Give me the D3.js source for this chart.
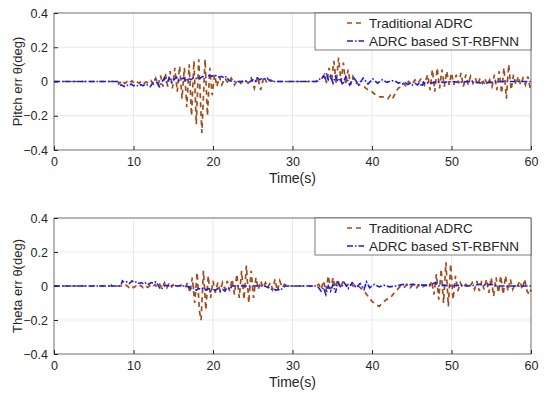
<!DOCTYPE html>
<html>
<head>
<meta charset="utf-8">
<script src="https://cdn.jsdelivr.net/npm/d3@7"></script>
<style>
  body { margin: 0; background: #fff; }
  svg { display: block; font-family: "Liberation Sans", Arial, sans-serif; }
</style>
</head>
<body>
<div id="chart"></div>
<script>
// axis settings
const xTicks = [0, 10, 20, 30, 40, 50, 60];
const yTicks = [-0.4, -0.2, 0, 0.2, 0.4];
const seriesNames = ["Traditional ADRC", "ADRC based ST-RBFNN"];
const panelLabels = ["Pitch err \u03b8(deg)", "Theta err \u03b8(deg)"];

// pitch error, traditional ADRC  [time, value]
const pitchTrad = [[0,0],[8,0],[8.3,-0.01],[8.6,0.005],[8.9,-0.012],[9.2,0],[9.5,-0.01],[9.8,0.004],[10.1,-0.012],[10.4,-0.002],[10.7,-0.01],[11,0.002],[11.3,-0.012],[11.6,-0.003],[11.9,-0.01],[12.2,0.005],[12.5,-0.015],[12.8,0.02],[13.1,-0.02],[13.4,0.035],[13.7,-0.03],[14,0.05],[14.3,-0.03],[14.6,0.06],[14.9,-0.04],[15.2,0.08],[15.5,-0.06],[15.8,0.09],[16.1,-0.1],[16.4,0.08],[16.7,-0.15],[17,0.1],[17.3,-0.2],[17.6,0.12],[17.9,-0.25],[18.2,0.13],[18.6,-0.3],[19,0.13],[19.3,-0.2],[19.6,0.08],[19.9,-0.08],[20.2,0.04],[20.5,-0.03],[20.8,0.03],[21.1,-0.02],[21.5,0.02],[21.9,-0.01],[22.3,0.02],[22.7,-0.02],[23.1,0.01],[23.5,-0.01],[24,0.01],[24.4,-0.01],[24.8,0.02],[25.2,-0.04],[25.6,0.03],[26,-0.05],[26.4,0.03],[26.8,-0.01],[27.2,0.01],[27.6,0],[33,0],[33.6,0.01],[34,0.04],[34.3,-0.01],[34.6,0.08],[34.9,0],[35.2,0.12],[35.5,-0.01],[35.8,0.14],[36.1,0],[36.4,0.11],[36.7,-0.02],[37,0.07],[37.3,-0.02],[37.6,0.03],[38,-0.01],[38.5,-0.02],[39,-0.03],[39.5,-0.05],[40,-0.06],[40.5,-0.08],[41,-0.09],[41.5,-0.09],[42,-0.1],[42.3,-0.08],[42.6,-0.1],[43,-0.06],[43.3,-0.04],[43.6,-0.03],[44,-0.01],[44.3,-0.03],[44.6,0],[45,-0.02],[45.4,0.01],[45.8,-0.01],[46.2,0.02],[46.6,-0.02],[47,0.04],[47.3,-0.05],[47.6,0.07],[47.9,-0.06],[48.2,0.08],[48.5,-0.04],[48.8,0.07],[49.1,-0.03],[49.4,0.06],[49.7,-0.02],[50,0.05],[50.3,-0.02],[50.6,0.04],[50.9,-0.01],[51.2,0.05],[51.5,-0.03],[51.8,0.04],[52.1,-0.02],[52.4,0.03],[52.7,-0.01],[53,0.02],[53.3,-0.02],[53.6,0.02],[53.9,-0.01],[54.2,0.02],[54.5,-0.02],[54.8,0.01],[55.1,-0.03],[55.4,0.04],[55.7,-0.05],[56,0.06],[56.3,-0.07],[56.6,0.08],[56.9,-0.1],[57.2,0.1],[57.5,-0.05],[57.8,0.04],[58.1,-0.02],[58.4,0.03],[58.7,-0.02],[59,0.02],[59.3,-0.02],[59.6,0.03],[59.9,-0.04],[60,-0.02]];

// pitch error, ADRC based ST-RBFNN
const pitchNN = [[0,0],[8,0],[8.2,-0.025],[8.5,-0.02],[8.8,-0.03],[9.1,-0.02],[9.4,-0.025],[9.7,-0.015],[10,-0.025],[10.3,-0.02],[10.6,-0.028],[10.9,-0.018],[11.2,-0.025],[11.5,-0.015],[11.8,-0.022],[12.1,-0.03],[12.4,-0.01],[12.7,0.01],[13,-0.01],[13.3,-0.03],[13.6,0],[13.9,0.02],[14.2,-0.01],[14.5,0.02],[14.8,-0.005],[15.1,0.01],[15.4,0.025],[15.7,0.005],[16,0.015],[16.3,0.02],[16.6,0],[16.9,0.02],[17.2,0.01],[17.5,0.02],[17.8,0.015],[18.1,0.025],[18.4,0.02],[18.7,0.03],[19,0.02],[19.3,0.03],[19.6,0.035],[19.9,0.03],[20.2,0.04],[20.5,0.03],[20.8,0.025],[21.1,0.03],[21.4,0.02],[21.7,0.03],[22,0.005],[22.5,0],[23.5,0],[24,0.005],[24.5,-0.005],[25,0.01],[25.3,0],[25.6,0.02],[25.9,0.01],[26.2,0.02],[26.5,0.015],[26.8,0.02],[27.1,0.005],[27.5,0],[33,0],[33.3,0.01],[33.6,0.02],[33.9,0.03],[34.1,0.02],[34.3,0.05],[34.5,0.01],[34.8,0.03],[35.1,-0.01],[35.4,0.03],[35.7,0],[36,0.02],[36.3,-0.02],[36.7,0.03],[37.2,-0.02],[37.7,0.025],[38.3,-0.02],[38.9,0.02],[39.5,-0.015],[40.1,0.015],[40.7,-0.01],[41.3,0.01],[41.9,-0.005],[42.5,0.005],[43,0],[43.3,-0.01],[43.6,-0.005],[43.9,-0.015],[44.2,-0.008],[44.5,-0.018],[44.8,-0.01],[45.1,-0.02],[45.4,-0.01],[45.7,-0.02],[46,-0.008],[46.3,-0.03],[46.5,-0.005],[46.8,-0.015],[47.1,-0.005],[47.5,-0.01],[48,0],[49,-0.005],[50,0],[51,-0.005],[52,0],[53,-0.005],[54,-0.01],[55,-0.005],[56,0],[60,0]];

// theta error, traditional ADRC
const thetaTrad = [[0,0],[8.5,0],[8.8,-0.005],[9.1,0.005],[9.4,-0.008],[9.7,0.003],[10,-0.01],[10.3,0],[10.6,-0.008],[10.9,0.004],[11.2,-0.01],[11.5,0.002],[11.8,-0.008],[12.1,0.004],[12.4,-0.006],[12.7,0.008],[13,-0.01],[13.3,0.01],[13.6,-0.015],[13.9,0.02],[14.2,-0.01],[14.5,0.02],[14.8,-0.005],[15.1,0.01],[15.5,0],[16,0.005],[16.5,-0.01],[16.8,0.02],[17.1,-0.04],[17.4,0.05],[17.7,-0.1],[18,0.08],[18.3,-0.15],[18.5,-0.2],[18.8,0.09],[19.1,-0.14],[19.4,0.06],[19.7,-0.07],[20,0.03],[20.3,-0.04],[20.6,0.02],[20.9,-0.03],[21.2,0.02],[21.5,-0.02],[21.8,0.03],[22.1,-0.03],[22.4,0.04],[22.7,-0.05],[23,0.07],[23.3,-0.07],[23.6,0.09],[23.9,-0.08],[24.2,0.12],[24.5,-0.1],[24.8,0.09],[25.1,-0.07],[25.4,0.05],[25.7,-0.02],[26,0.03],[26.3,-0.01],[26.6,0.02],[26.9,-0.01],[27.2,0.02],[27.5,-0.02],[27.8,0.04],[28.1,-0.03],[28.4,0.03],[28.7,-0.01],[29,0.01],[29.4,0],[33,0],[33.3,0.01],[33.6,-0.02],[33.9,0.03],[34.2,-0.03],[34.5,0.06],[34.8,-0.02],[35.1,0.05],[35.4,-0.01],[35.7,0.04],[36,-0.01],[36.4,0.03],[36.8,0],[37.2,0.02],[37.6,0],[38,0.01],[38.5,-0.01],[39,-0.03],[39.5,-0.06],[40,-0.09],[40.5,-0.11],[40.9,-0.12],[41.3,-0.1],[41.8,-0.08],[42.3,-0.07],[42.8,-0.04],[43.2,-0.02],[43.6,0],[44,-0.01],[44.4,0.01],[44.8,-0.01],[45.2,0.01],[45.6,-0.01],[46,0.01],[46.4,-0.005],[46.8,0.005],[47.2,-0.01],[47.5,0.03],[47.8,-0.05],[48.1,0.07],[48.4,-0.08],[48.7,0.1],[49,-0.1],[49.3,0.14],[49.6,-0.12],[49.9,0.13],[50.2,-0.08],[50.5,0.06],[50.8,-0.03],[51.1,0.02],[51.4,-0.01],[51.8,0.01],[52.2,-0.01],[52.6,0.02],[52.9,-0.02],[53.2,0.03],[53.5,-0.03],[53.8,0.03],[54.1,-0.02],[54.4,0.04],[54.7,-0.04],[55,0.05],[55.3,-0.06],[55.6,0.05],[55.9,-0.04],[56.2,0.06],[56.5,-0.05],[56.8,0.06],[57.1,-0.03],[57.4,0.04],[57.7,-0.02],[58,0.01],[58.3,0],[58.6,0.03],[58.9,-0.02],[59.2,0.04],[59.5,-0.03],[59.8,-0.05],[60,-0.02]];

// theta error, ADRC based ST-RBFNN
const thetaNN = [[0,0],[7.1,0],[7.2,0.005],[7.3,0],[8.4,0],[8.6,0.03],[8.9,0.02],[9.2,0.025],[9.5,0.015],[9.8,0.03],[10.1,0.02],[10.4,0.025],[10.7,0.015],[11,0.02],[11.3,0.01],[11.6,0.02],[11.9,0.01],[12.2,0.02],[12.5,0.015],[12.8,0.025],[13.1,0.005],[13.4,-0.02],[13.7,-0.01],[14,0.005],[14.3,0],[15,0.005],[15.5,0],[16.5,0],[17,-0.005],[17.3,-0.02],[17.6,-0.01],[17.9,-0.025],[18.2,-0.015],[18.5,-0.02],[18.8,-0.01],[19.1,-0.025],[19.4,-0.015],[19.7,-0.03],[20,-0.02],[20.3,-0.025],[20.6,-0.015],[20.9,-0.03],[21.2,-0.02],[21.5,-0.03],[21.8,-0.01],[22.1,-0.02],[22.4,0],[26.5,0],[27,-0.01],[27.3,-0.02],[27.6,-0.015],[27.9,-0.025],[28.2,-0.02],[28.5,-0.025],[28.8,-0.01],[29.1,0],[33,0],[33.3,-0.01],[33.6,-0.03],[33.9,-0.01],[34.2,-0.05],[34.5,0],[34.8,-0.03],[35.1,0.01],[35.4,-0.04],[35.7,0.02],[36.1,-0.01],[36.5,0.02],[37,-0.015],[37.5,0.02],[38,-0.01],[38.5,0.015],[39,-0.02],[39.3,0.025],[39.7,-0.01],[40.3,0.01],[40.9,-0.005],[41.5,0.005],[42.2,-0.005],[43,0],[43.5,0.005],[44,0.01],[44.5,0.005],[45,0.01],[46,0.005],[47,0.005],[47.5,0.01],[48,0.02],[48.3,0],[49,0.005],[50,0],[51,0.005],[52,0],[53,0.005],[53.5,0.01],[54,0.005],[55,0.01],[55.5,0.005],[56,0],[60,0]];

const tradColor = "#a04d1e";
const nnColor = "#1c1ce6";
const axisColor = "#262626";
const tradDash = "5,4";
const nnDash = "6,2,1.5,2";

const width = 550, height = 395;
const svg = d3.select("#chart").append("svg")
  .attr("width", width)
  .attr("height", height);

const x = d3.scaleLinear().domain([0, 60]).range([54, 531]);

function drawPanel(top, bottom, label, trad, nn) {
  const y = d3.scaleLinear().domain([-0.4, 0.4]).range([bottom, top]);
  const g = svg.append("g");

  // grid
  g.selectAll("line.gx").data(xTicks).enter().append("line")
    .attr("x1", d => x(d)).attr("x2", d => x(d))
    .attr("y1", top).attr("y2", bottom)
    .attr("stroke", "#e3e3e3").attr("stroke-width", 0.8);
  g.selectAll("line.gy").data(yTicks).enter().append("line")
    .attr("x1", x(0)).attr("x2", x(60))
    .attr("y1", d => y(d)).attr("y2", d => y(d))
    .attr("stroke", "#e3e3e3").attr("stroke-width", 0.8);

  const line = d3.line().x(d => x(d[0])).y(d => y(d[1]));

  g.append("path").datum(trad)
    .attr("d", line)
    .attr("fill", "none")
    .attr("stroke", tradColor)
    .attr("stroke-width", 1.7)
    .attr("stroke-dasharray", tradDash);

  g.append("path").datum(nn)
    .attr("d", line)
    .attr("fill", "none")
    .attr("stroke", nnColor)
    .attr("stroke-width", 1.6)
    .attr("stroke-dasharray", nnDash);

  // axes
  const xAxis = d3.axisBottom(x).tickValues(xTicks).tickSize(-4).tickPadding(7);
  const yAxis = d3.axisLeft(y).tickValues(yTicks).tickSize(-4).tickPadding(6)
    .tickFormat(d => d === 0 ? "0" : d3.format(".1f")(d));

  const gx = g.append("g").attr("transform", `translate(0,${bottom})`).call(xAxis);
  const gy = g.append("g").attr("transform", `translate(${x(0)},0)`).call(yAxis);
  [gx, gy].forEach(a => {
    a.select(".domain").remove();
    a.selectAll("line").attr("stroke", axisColor);
    a.selectAll("text").attr("fill", axisColor).attr("font-size", 12.5)
      .attr("font-family", "Liberation Sans, Arial, sans-serif");
  });

  g.append("rect")
    .attr("x", x(0)).attr("y", top)
    .attr("width", x(60) - x(0)).attr("height", bottom - top)
    .attr("fill", "none").attr("stroke", axisColor).attr("stroke-width", 0.6);

  g.append("text")
    .attr("transform", `translate(22,${(top + bottom) / 2}) rotate(-90)`)
    .attr("text-anchor", "middle")
    .attr("font-size", 13)
    .attr("fill", axisColor)
    .text(label);

  g.append("text")
    .attr("x", (x(0) + x(60)) / 2)
    .attr("y", bottom + 33)
    .attr("text-anchor", "middle")
    .attr("font-size", 14)
    .attr("fill", axisColor)
    .text("Time(s)");

  // legend
  const lg = g.append("g");
  lg.append("rect")
    .attr("x", 315).attr("y", top).attr("width", x(60) - 315).attr("height", 37)
    .attr("fill", "#fff").attr("stroke", axisColor).attr("stroke-width", 0.6);
  const styles = [
    { color: tradColor, dash: tradDash, w: 1.7 },
    { color: nnColor, dash: nnDash, w: 1.6 }
  ];
  seriesNames.forEach((name, i) => {
    const cy = top + 10 + i * 18;
    lg.append("line")
      .attr("x1", 347).attr("x2", 364).attr("y1", cy).attr("y2", cy)
      .attr("stroke", styles[i].color).attr("stroke-width", styles[i].w)
      .attr("stroke-dasharray", styles[i].dash);
    lg.append("text")
      .attr("x", 369).attr("y", cy + 4.5)
      .attr("font-size", 13.5)
      .attr("fill", axisColor)
      .text(name);
  });
}

drawPanel(13, 150, panelLabels[0], pitchTrad, pitchNN);
drawPanel(218, 354, panelLabels[1], thetaTrad, thetaNN);
</script>
</body>
</html>
